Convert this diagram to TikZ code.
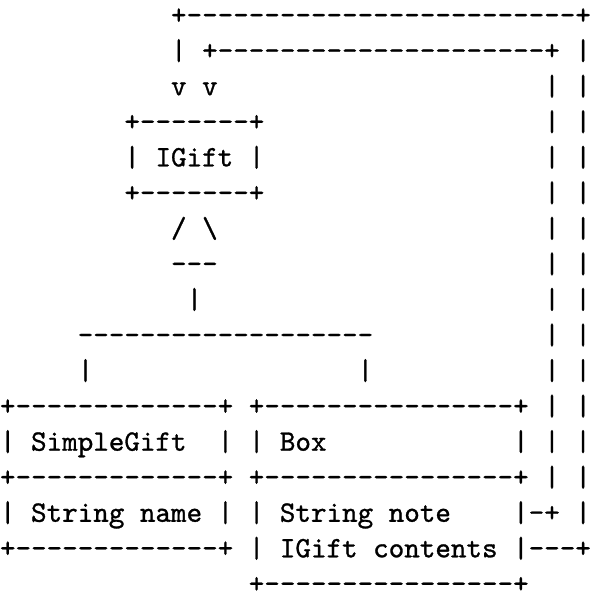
\documentclass[tikz,border=0pt]{standalone}
\usepackage{tikz}

\font\treemono="[lmmono10-regular]:embolden=1" at 10pt
\tikzset{asciirow/.style={anchor=base west,inner sep=0pt,outer sep=0pt,font=\treemono}}

\begin{document}
\begin{tikzpicture}[x=5.25pt,y=12pt]
    % Page
    \useasboundingbox (0,0) rectangle (38,17.05);

    % Links up to IGift
    \node[asciirow] (row1) at (11,16.37) {+-------------------------+};
    \node[asciirow] (row2) at (11,15.37) {|~+---------------------+~|};
    \node[asciirow] (row3) at (11,14.37) {v~v~~~~~~~~~~~~~~~~~~~~~|~|};

    % IGift
    \node[asciirow] (row4) at (8,13.37) {+-------+~~~~~~~~~~~~~~~~~~|~|};
    \node[asciirow] (row5) at (8,12.37) {|~IGift~|~~~~~~~~~~~~~~~~~~|~|};
    \node[asciirow] (row6) at (8,11.37) {+-------+~~~~~~~~~~~~~~~~~~|~|};

    % Inheritance
    \node[asciirow] (row7) at (11,10.37) {/~\symbol{92}~~~~~~~~~~~~~~~~~~~~~|~|};
    \node[asciirow] (row8) at (11,9.37) {---~~~~~~~~~~~~~~~~~~~~~|~|};
    \node[asciirow] (row9) at (12,8.37) {|~~~~~~~~~~~~~~~~~~~~~~|~|};
    \node[asciirow] (row10) at (5,7.37) {-------------------~~~~~~~~~~~|~|};
    \node[asciirow] (row11) at (5,6.37) {|~~~~~~~~~~~~~~~~~|~~~~~~~~~~~|~|};

    % SimpleGift and Box
    \node[asciirow] (row12) at (0,5.37) {+-------------+~+----------------+~|~|};
    \node[asciirow] (row13) at (0,4.37) {|~SimpleGift~~|~|~Box~~~~~~~~~~~~|~|~|};
    \node[asciirow] (row14) at (0,3.37) {+-------------+~+----------------+~|~|};
    \node[asciirow] (row15) at (0,2.37) {|~String~name~|~|~String~note~~~~|-+~|};
    \node[asciirow] (row16) at (0,1.37) {+-------------+~|~IGift~contents~|---+};
    \node[asciirow] (row17) at (16,0.37) {+----------------+};
\end{tikzpicture}
\end{document}
